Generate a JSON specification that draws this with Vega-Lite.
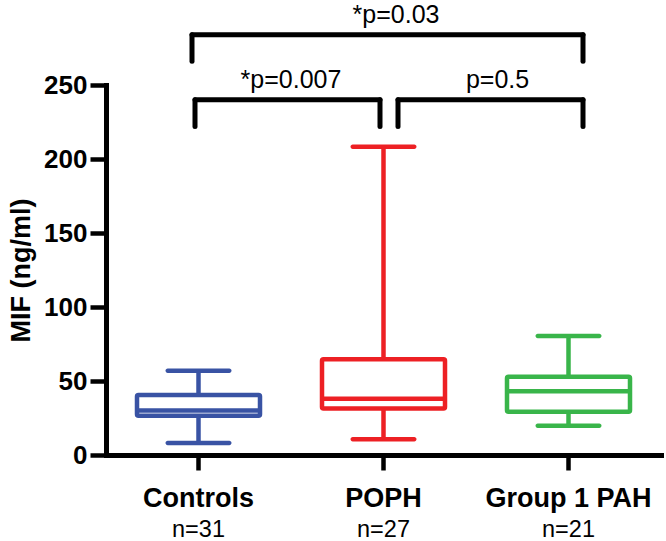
{
  "$schema": "https://vega.github.io/schema/vega-lite/v6.json",
  "width": 555,
  "height": 370,
  "autosize": "none",
  "padding": {"left": 106, "top": 85, "right": 5, "bottom": 86},
  "background": "white",
  "config": {
    "view": {"stroke": null},
    "font": "Liberation Sans",
    "text": {"font": "Liberation Sans"}
  },
  "datasets": {
    "boxes": [
      {"group": "Controls", "n": "n=31", "min": 8.1, "q1": 26.5, "median": 30, "q3": 40.5, "max": 57},
      {"group": "POPH", "n": "n=27", "min": 10.6, "q1": 31.5, "median": 38, "q3": 64.7, "max": 208.3},
      {"group": "Group 1 PAH", "n": "n=21", "min": 19.8, "q1": 29.3, "median": 43, "q3": 52.9, "max": 80.4}
    ],
    "brackets": [
      {"id": "top", "from": "Controls", "to": "Group 1 PAH", "mid": "POPH", "top": 284, "bottom": 266, "label": "*p=0.03", "label_y": 292},
      {"id": "left", "from": "Controls", "to": "POPH", "mid": "Controls", "top": 240, "bottom": 222, "label": "*p=0.007", "label_y": 248},
      {"id": "right", "from": "POPH", "to": "Group 1 PAH", "mid": "POPH", "top": 240, "bottom": 222, "label": "p=0.5", "label_y": 248}
    ]
  },
  "layer": [
    {
      "data": {"name": "boxes"},
      "mark": {"type": "rule", "strokeWidth": 4.5, "opacity": 1},
      "encoding": {
        "x": {
          "field": "group", "type": "nominal",
          "scale": {"domain": ["Controls", "POPH", "Group 1 PAH"], "paddingInner": 0, "paddingOuter": 0},
          "axis": {
            "title": null, "labelAngle": 0, "labelFontSize": 27, "labelFontWeight": "bold", "labelColor": "black",
            "labelPadding": 15, "tickSize": 15, "tickWidth": 4.5, "tickColor": "black",
            "domainWidth": 5, "domainColor": "black", "domainCap": "square"
          }
        },
        "y": {
          "field": "min", "type": "quantitative",
          "scale": {"domain": [0, 250], "nice": false, "zero": false},
          "axis": {
            "title": "MIF (ng/ml)", "titleFontSize": 27, "titleFontWeight": "bold", "titleColor": "black", "titlePadding": 8,
            "values": [0, 50, 100, 150, 200, 250], "grid": false,
            "labelFontSize": 26, "labelFontWeight": "bold", "labelColor": "black", "labelPadding": 3,
            "tickSize": 16, "tickWidth": 4.5, "tickColor": "black",
            "domainWidth": 5, "domainColor": "black", "domainCap": "square"
          }
        },
        "y2": {"field": "max"},
        "color": {"field": "group", "type": "nominal", "scale": {"domain": ["Controls", "POPH", "Group 1 PAH"], "range": ["#3953a4", "#ed2024", "#39b54a"]}, "legend": null}
      }
    },
    {
      "data": {"name": "boxes"},
      "mark": {"type": "bar", "size": 123, "fill": "white", "strokeWidth": 4.5, "cornerRadius": 1.5, "opacity": 1},
      "encoding": {
        "x": {"field": "group", "type": "nominal"},
        "y": {"field": "q1", "type": "quantitative"},
        "y2": {"field": "q3"},
        "stroke": {"field": "group", "type": "nominal", "scale": {"domain": ["Controls", "POPH", "Group 1 PAH"], "range": ["#3953a4", "#ed2024", "#39b54a"]}, "legend": null}
      }
    },
    {
      "data": {"name": "boxes"},
      "mark": {"type": "tick", "size": 124, "thickness": 4.5, "opacity": 1},
      "encoding": {
        "x": {"field": "group", "type": "nominal"},
        "y": {"field": "median", "type": "quantitative"},
        "color": {"field": "group", "type": "nominal", "legend": null}
      }
    },
    {
      "data": {"name": "boxes"},
      "mark": {"type": "tick", "size": 66, "thickness": 4.5, "cornerRadius": 2.2, "opacity": 1},
      "encoding": {
        "x": {"field": "group", "type": "nominal"},
        "y": {"field": "min", "type": "quantitative"},
        "color": {"field": "group", "type": "nominal", "legend": null}
      }
    },
    {
      "data": {"name": "boxes"},
      "mark": {"type": "tick", "size": 66, "thickness": 4.5, "cornerRadius": 2.2, "opacity": 1},
      "encoding": {
        "x": {"field": "group", "type": "nominal"},
        "y": {"field": "max", "type": "quantitative"},
        "color": {"field": "group", "type": "nominal", "legend": null}
      }
    },
    {
      "data": {"name": "boxes"},
      "mark": {"type": "text", "fontSize": 23.5, "color": "black", "baseline": "alphabetic"},
      "encoding": {
        "x": {"field": "group", "type": "nominal"},
        "y": {"datum": -55.2},
        "text": {"field": "n"}
      }
    },
    {
      "data": {"name": "brackets"},
      "transform": [{"filter": "datum.id === 'top'"}],
      "layer": [
        {"mark": {"type": "rule", "strokeWidth": 5, "color": "black", "strokeCap": "round", "xOffset": -6.5, "x2Offset": 14.5},
         "encoding": {"x": {"field": "from", "type": "nominal"}, "x2": {"field": "to"}, "y": {"field": "top", "type": "quantitative"}}},
        {"mark": {"type": "rule", "strokeWidth": 5, "color": "black", "strokeCap": "round", "xOffset": -6.5},
         "encoding": {"x": {"field": "from", "type": "nominal"}, "y": {"field": "top", "type": "quantitative"}, "y2": {"field": "bottom"}}},
        {"mark": {"type": "rule", "strokeWidth": 5, "color": "black", "strokeCap": "round", "xOffset": 14.5},
         "encoding": {"x": {"field": "to", "type": "nominal"}, "y": {"field": "top", "type": "quantitative"}, "y2": {"field": "bottom"}}},
        {"mark": {"type": "text", "fontSize": 25, "color": "black", "baseline": "alphabetic", "xOffset": 12.5},
         "encoding": {"x": {"field": "mid", "type": "nominal"}, "y": {"field": "label_y", "type": "quantitative"}, "text": {"field": "label"}}}
      ]
    },
    {
      "data": {"name": "brackets"},
      "transform": [{"filter": "datum.id === 'left'"}],
      "layer": [
        {"mark": {"type": "rule", "strokeWidth": 5, "color": "black", "strokeCap": "round", "xOffset": -3.5, "x2Offset": -3.5},
         "encoding": {"x": {"field": "from", "type": "nominal"}, "x2": {"field": "to"}, "y": {"field": "top", "type": "quantitative"}}},
        {"mark": {"type": "rule", "strokeWidth": 5, "color": "black", "strokeCap": "round", "xOffset": -3.5},
         "encoding": {"x": {"field": "from", "type": "nominal"}, "y": {"field": "top", "type": "quantitative"}, "y2": {"field": "bottom"}}},
        {"mark": {"type": "rule", "strokeWidth": 5, "color": "black", "strokeCap": "round", "xOffset": -3.5},
         "encoding": {"x": {"field": "to", "type": "nominal"}, "y": {"field": "top", "type": "quantitative"}, "y2": {"field": "bottom"}}},
        {"mark": {"type": "text", "fontSize": 25, "color": "black", "baseline": "alphabetic", "xOffset": 92.5},
         "encoding": {"x": {"field": "mid", "type": "nominal"}, "y": {"field": "label_y", "type": "quantitative"}, "text": {"field": "label"}}}
      ]
    },
    {
      "data": {"name": "brackets"},
      "transform": [{"filter": "datum.id === 'right'"}],
      "layer": [
        {"mark": {"type": "rule", "strokeWidth": 5, "color": "black", "strokeCap": "round", "xOffset": 14.5, "x2Offset": 14.5},
         "encoding": {"x": {"field": "from", "type": "nominal"}, "x2": {"field": "to"}, "y": {"field": "top", "type": "quantitative"}}},
        {"mark": {"type": "rule", "strokeWidth": 5, "color": "black", "strokeCap": "round", "xOffset": 14.5},
         "encoding": {"x": {"field": "from", "type": "nominal"}, "y": {"field": "top", "type": "quantitative"}, "y2": {"field": "bottom"}}},
        {"mark": {"type": "rule", "strokeWidth": 5, "color": "black", "strokeCap": "round", "xOffset": 14.5},
         "encoding": {"x": {"field": "to", "type": "nominal"}, "y": {"field": "top", "type": "quantitative"}, "y2": {"field": "bottom"}}},
        {"mark": {"type": "text", "fontSize": 25, "color": "black", "baseline": "alphabetic", "xOffset": 114},
         "encoding": {"x": {"field": "mid", "type": "nominal"}, "y": {"field": "label_y", "type": "quantitative"}, "text": {"field": "label"}}}
      ]
    }
  ]
}
